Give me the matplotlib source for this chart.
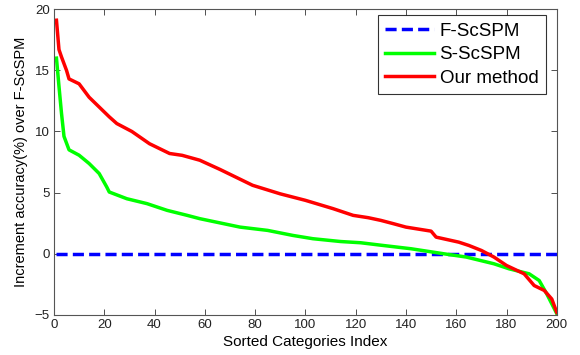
import numpy as np
import matplotlib.pyplot as plt

# Values (sorted per-category accuracy increments)
base_x = [1, 200]
base_y = [0, 0]

green_x = [1, 2, 3, 4, 6, 10, 14, 18, 21, 22, 29, 37, 45, 53, 58, 74, 85, 95,
           103, 114, 122, 130, 142, 155, 164, 175, 181, 189, 193, 196, 200]
green_y = [16.0, 13.7, 11.5, 9.6, 8.5, 8.06, 7.38, 6.56, 5.46, 5.05, 4.5, 4.1,
           3.55, 3.14, 2.87, 2.18, 1.91, 1.5, 1.23, 1.0, 0.9, 0.7, 0.41, 0.0,
           -0.27, -0.82, -1.23, -1.64, -2.19, -3.28, -4.9]

red_x = [1, 2, 3, 5, 6, 10, 14, 18, 22, 25, 31, 38, 46, 51, 58, 66, 74, 79, 90,
         100, 111, 119, 125, 130, 135, 140, 150, 152, 161, 165, 170, 175, 180,
         187, 191, 195, 198, 200]
red_y = [19.1, 16.7, 16.1, 15.0, 14.3, 13.9, 12.8, 12.0, 11.2, 10.65, 10.0, 9.0,
         8.2, 8.05, 7.65, 6.9, 6.1, 5.6, 4.9, 4.37, 3.69, 3.14, 2.95, 2.73, 2.46,
         2.18, 1.85, 1.36, 0.95, 0.68, 0.27, -0.27, -0.96, -1.64, -2.6, -3.0,
         -3.7, -4.8]

plt.rcParams['font.family'] = ['Liberation Sans', 'DejaVu Sans']

fig = plt.figure(figsize=(5.8, 3.55), dpi=100, facecolor='white')
ax = fig.add_axes([0.093, 0.113, 0.867, 0.861])

ax.plot(base_x, base_y, color='#0000ff', lw=2.5, ls=(0, (3.2, 1.5)), label='F-ScSPM')
ax.plot(green_x, green_y, color='#00ff00', lw=2.5, label='S-ScSPM')
ax.plot(red_x, red_y, color='#ff0000', lw=2.5, label='Our method')

ax.set_xlim(0, 200)
ax.set_ylim(-5, 20)
ax.set_xticks(np.arange(0, 201, 20))
ax.set_yticks(np.arange(-5, 21, 5))
ax.tick_params(direction='in', top=True, right=True, length=4, width=0.6,
               labelsize=9.5, colors='#333333', labelcolor='#222222', pad=3)
for s in ax.spines.values():
    s.set_linewidth(0.8)
    s.set_color('#555555')

ax.set_xlabel('Sorted Categories Index', fontsize=11, labelpad=3)
ax.set_ylabel('Increment accuracy(%) over F-ScSPM', fontsize=10.5, labelpad=5)

leg = ax.legend(loc='upper right', bbox_to_anchor=(0.941, 0.958),
                bbox_transform=fig.transFigure, borderaxespad=0,
                fontsize=13.5, frameon=True, fancybox=False,
                handlelength=2.6, handletextpad=0.3,
                labelspacing=0.35, borderpad=0.4)
leg.get_frame().set_edgecolor('black')
leg.get_frame().set_linewidth(0.8)

fig.savefig('out.png', dpi=100, facecolor='white')
